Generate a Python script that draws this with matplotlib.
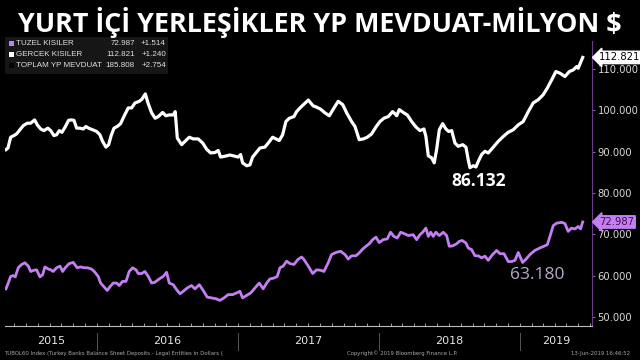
import matplotlib
matplotlib.use("Agg")
import matplotlib.pyplot as plt
import matplotlib.dates as mdates
import matplotlib.transforms as mtransforms
import pandas as pd
import numpy as np

title = "YURT İÇİ YERLEŞİKLER YP MEVDUAT-MİLYON $"

# dates as decimal years, values in billions (shown as 'milyon $' x1000)
gercek_t = [2015.355, 2015.369, 2015.388, 2015.411, 2015.430, 2015.454, 2015.477, 2015.506, 2015.530, 2015.558,
            2015.577, 2015.601, 2015.624, 2015.652, 2015.672, 2015.695, 2015.714, 2015.733, 2015.752, 2015.775,
            2015.799, 2015.818, 2015.837, 2015.856, 2015.879, 2015.903, 2015.922, 2015.941, 2015.970, 2015.998,
            2016.021, 2016.040, 2016.064, 2016.083, 2016.101, 2016.121, 2016.144, 2016.168, 2016.191, 2016.222,
            2016.246, 2016.270, 2016.300, 2016.319, 2016.343, 2016.362, 2016.388, 2016.413, 2016.435, 2016.466,
            2016.489, 2016.513, 2016.541, 2016.555, 2016.570, 2016.601, 2016.624, 2016.655, 2016.683, 2016.718,
            2016.750, 2016.778, 2016.806, 2016.837, 2016.860, 2016.877, 2016.908, 2016.943, 2016.979, 2017.002,
            2017.019, 2017.033, 2017.062, 2017.085, 2017.104, 2017.128, 2017.156, 2017.191, 2017.215, 2017.246,
            2017.270, 2017.293, 2017.317, 2017.340, 2017.364, 2017.397, 2017.416, 2017.440, 2017.468, 2017.499,
            2017.533, 2017.557, 2017.586, 2017.617, 2017.648, 2017.676, 2017.711, 2017.743, 2017.771, 2017.806,
            2017.830, 2017.860, 2017.889, 2017.917, 2017.948, 2017.979, 2018.007, 2018.035, 2018.066, 2018.097,
            2018.113, 2018.126, 2018.144, 2018.172, 2018.201, 2018.232, 2018.262, 2018.291, 2018.319, 2018.333,
            2018.350, 2018.374, 2018.392, 2018.409, 2018.428, 2018.452, 2018.475, 2018.494, 2018.516, 2018.539,
            2018.562, 2018.594, 2018.617, 2018.633, 2018.645, 2018.669, 2018.688, 2018.704, 2018.728, 2018.752,
            2018.775, 2018.806, 2018.846, 2018.882, 2018.917, 2018.952, 2018.988, 2019.023, 2019.059, 2019.094,
            2019.130, 2019.165, 2019.194, 2019.225, 2019.255, 2019.284, 2019.319, 2019.350, 2019.378, 2019.402,
            2019.413, 2019.445]
gercek_v = [90.5, 90.9, 93.5, 93.9, 94.3, 95.3, 96.3, 96.9, 96.9, 97.7,
            96.5, 95.5, 95.1, 95.7, 95.1, 93.9, 94.1, 95.1, 94.7, 96.0,
            97.6, 97.7, 97.6, 95.7, 95.7, 95.5, 96.1, 95.7, 95.3, 94.9,
            94.1, 92.5, 91.1, 91.7, 93.9, 95.7, 96.1, 96.8, 98.5, 100.6,
            100.6, 101.8, 102.2, 102.7, 104.0, 101.8, 99.4, 98.1, 98.5, 99.5,
            98.7, 98.9, 98.9, 99.7, 93.3, 91.7, 92.5, 93.5, 93.1, 93.1,
            92.1, 90.6, 89.7, 89.8, 90.3, 88.7, 88.9, 89.2, 88.9, 88.7,
            89.3, 87.3, 86.6, 86.8, 88.7, 89.7, 90.9, 91.1, 92.1, 93.5,
            93.1, 92.7, 94.1, 97.3, 98.1, 98.5, 99.7, 100.6, 101.5, 102.5,
            101.1, 100.8, 100.3, 99.4, 98.7, 100.3, 102.2, 101.4, 99.4, 97.3,
            96.1, 92.9, 93.1, 93.5, 94.3, 96.0, 97.3, 98.1, 98.5, 99.7,
            99.2, 98.7, 100.2, 99.5, 98.9, 97.3, 96.0, 95.1, 95.5, 93.7,
            89.0, 88.5, 87.3, 90.5, 95.3, 96.8, 95.5, 94.9, 95.1, 92.1,
            91.3, 91.7, 91.1, 88.1, 86.132, 86.6, 86.3, 87.6, 89.3, 90.1,
            89.7, 90.9, 92.5, 93.7, 94.7, 95.3, 96.5, 97.3, 99.7, 101.8,
            102.6, 103.8, 105.4, 107.4, 109.4, 109.0, 108.2, 109.4, 109.8, 110.6,
            110.2, 112.821]

tuzel_t = [2015.355, 2015.371, 2015.388, 2015.406, 2015.421, 2015.442, 2015.466, 2015.489, 2015.513, 2015.530,
           2015.553, 2015.572, 2015.596, 2015.615, 2015.631, 2015.655, 2015.672, 2015.690, 2015.714, 2015.738,
           2015.757, 2015.775, 2015.803, 2015.832, 2015.860, 2015.884, 2015.908, 2015.931, 2015.962, 2015.986,
           2016.009, 2016.026, 2016.050, 2016.073, 2016.092, 2016.116, 2016.140, 2016.158, 2016.182, 2016.206,
           2016.229, 2016.253, 2016.277, 2016.293, 2016.317, 2016.340, 2016.364, 2016.388, 2016.411, 2016.442,
           2016.470, 2016.494, 2016.513, 2016.541, 2016.565, 2016.589, 2016.612, 2016.640, 2016.671, 2016.695,
           2016.726, 2016.754, 2016.782, 2016.813, 2016.844, 2016.872, 2016.901, 2016.931, 2016.962, 2016.991,
           2017.014, 2017.033, 2017.062, 2017.090, 2017.121, 2017.151, 2017.179, 2017.204, 2017.227, 2017.255,
           2017.279, 2017.298, 2017.321, 2017.345, 2017.369, 2017.397, 2017.428, 2017.452, 2017.468, 2017.499,
           2017.530, 2017.558, 2017.586, 2017.610, 2017.640, 2017.664, 2017.695, 2017.728, 2017.759, 2017.782,
           2017.806, 2017.837, 2017.860, 2017.884, 2017.908, 2017.931, 2017.955, 2017.979, 2018.002, 2018.030,
           2018.059, 2018.082, 2018.106, 2018.130, 2018.154, 2018.177, 2018.208, 2018.243, 2018.267, 2018.291,
           2018.310, 2018.333, 2018.350, 2018.367, 2018.385, 2018.404, 2018.428, 2018.456, 2018.480, 2018.499,
           2018.523, 2018.551, 2018.570, 2018.590, 2018.617, 2018.633, 2018.657, 2018.681, 2018.704, 2018.728,
           2018.752, 2018.775, 2018.806, 2018.835, 2018.858, 2018.887, 2018.917, 2018.941, 2018.965, 2018.988,
           2019.005, 2019.019, 2019.043, 2019.071, 2019.106, 2019.142, 2019.170, 2019.194, 2019.213, 2019.236,
           2019.260, 2019.296, 2019.319, 2019.342, 2019.366, 2019.390, 2019.413, 2019.430, 2019.445]
tuzel_v = [56.8, 58.2, 59.8, 60.0, 59.7, 61.9, 62.7, 63.1, 62.3, 61.0,
           61.3, 61.4, 59.7, 60.2, 62.1, 61.6, 61.4, 61.0, 61.9, 62.3,
           61.0, 61.9, 62.9, 63.2, 61.9, 62.1, 61.9, 61.9, 61.6, 60.8,
           59.8, 58.2, 57.3, 56.4, 57.3, 58.2, 58.2, 57.6, 58.6, 58.6,
           61.0, 61.9, 61.4, 60.5, 60.5, 61.0, 59.8, 58.2, 58.4, 59.2,
           59.8, 60.8, 58.2, 57.8, 56.6, 55.6, 56.2, 57.0, 57.6, 56.8,
           57.8, 56.4, 54.8, 54.6, 54.4, 54.0, 54.6, 55.4, 55.4, 55.8,
           56.2, 54.6, 55.2, 55.8, 57.0, 58.2, 56.8, 58.2, 59.2, 59.4,
           59.8, 61.9, 62.3, 63.5, 62.9, 62.7, 64.0, 64.5, 63.9, 62.3,
           60.5, 61.4, 61.3, 61.0, 63.1, 65.1, 65.6, 65.9, 65.1, 64.0,
           64.8, 64.8, 65.5, 66.4, 67.1, 67.7, 68.7, 69.3, 68.0, 68.7,
           68.9, 70.5, 69.5, 69.1, 70.5, 70.2, 69.7, 69.9, 68.7, 69.9,
           70.5, 71.5, 69.5, 70.5, 69.5, 70.5, 69.7, 70.5, 69.7, 67.1,
           67.2, 67.7, 68.3, 68.5, 67.9, 66.7, 66.3, 64.8, 64.8, 64.3,
           64.7, 63.7, 65.1, 66.1, 65.3, 65.3, 63.4, 63.4, 63.7, 65.6,
           64.3, 63.18, 64.0, 65.1, 66.1, 66.7, 67.1, 67.5, 69.5, 72.1,
           72.7, 72.9, 72.6, 70.7, 71.5, 71.3, 71.9, 71.3, 72.987]

legend_names = ["TUZEL KISILER", "GERCEK KISILER", "TOPLAM YP MEVDUAT"]
legend_last = ["72.987", "112.821", "185.808"]
legend_change = ["+1.514", "+1.240", "+2.754"]
y_ticks = [50, 60, 70, 80, 90, 100, 110]
years = [2015, 2016, 2017, 2018, 2019]
min_gercek_label = "86.132"
min_tuzel_label = "63.180"
footer_left = "TUBOL60 Index (Turkey Banks Balance Sheet Deposits - Legal Entities in Dollars ("
footer_mid = "Copyright\u00a9 2019 Bloomberg Finance L.P."
footer_right = "13-Jun-2019 16:46:52"


def to_date(y):
    y = np.asarray(y, dtype=float)
    base = pd.Timestamp("2015-01-01")
    return [base + pd.Timedelta(days=float((v - 2015.0) * 365.25)) for v in y]


PURPLE = "#c57ef2"
WHITE = "#ffffff"
BG = "#000000"

fig = plt.figure(figsize=(6.4, 3.6), dpi=100, facecolor=BG)
ax = fig.add_axes([5 / 640, 1 - 326 / 360, 587 / 640, 285 / 360], facecolor=BG)

ax.plot(to_date(gercek_t), gercek_v, color=WHITE, lw=2.3, solid_joinstyle="round")
ax.plot(to_date(tuzel_t), tuzel_v, color=PURPLE, lw=2.0, solid_joinstyle="round")

xmin, xmax = to_date([2015.348, 2019.511])
ax.set_xlim(xmin, xmax)
ax.set_ylim(47.8, 116.8)

for s in ["top", "left"]:
    ax.spines[s].set_visible(False)
ax.spines["right"].set_color("#6a3d8a")
ax.spines["bottom"].set_color("#bbbbbb")
ax.spines["right"].set_linewidth(0.8)
ax.spines["bottom"].set_linewidth(0.8)

ax.yaxis.tick_right()
ax.set_yticks(y_ticks)
ax.set_yticklabels([f"{v:.3f}" for v in y_ticks])
ax.tick_params(axis="y", colors="#8a5aa8", length=2.5, width=0.8, pad=1.5, labelsize=7.2,
               labelcolor="#d8d8d8")

ax.xaxis.set_major_locator(mdates.MonthLocator())
ax.xaxis.set_major_formatter(plt.NullFormatter())
ax.tick_params(axis="x", direction="in", length=2, width=0.6, colors="#bbbbbb")

# year labels and separators
xform = mtransforms.blended_transform_factory(ax.transData, ax.transAxes)
x0n = mdates.date2num(xmin)
x1n = mdates.date2num(xmax)
for yr in years:
    a = max(mdates.date2num(pd.Timestamp(f"{yr}-01-01")), x0n)
    b = min(mdates.date2num(pd.Timestamp(f"{yr + 1}-01-01")), x1n)
    ax.text((a + b) / 2, -0.052, str(yr), transform=xform, ha="center", va="center",
            color="#e6e6e6", fontsize=8, clip_on=False)
    if yr > years[0]:
        xb = mdates.date2num(pd.Timestamp(f"{yr}-01-01"))
        ax.plot([xb, xb], [-0.025, -0.085], transform=xform, color="#555555", lw=0.7, clip_on=False)

# min annotations
ax.text(to_date([2018.71])[0], 83.0, min_gercek_label, color=WHITE, fontsize=12.5,
        fontweight="bold", ha="center", va="center", family="Open Sans")
ax.text(to_date([2019.12])[0], 60.2, min_tuzel_label, color="#b9a9cc", fontsize=12.5,
        ha="center", va="center", family="Open Sans")

# last-value tags on right axis
ytr = mtransforms.blended_transform_factory(ax.transAxes, ax.transData)
ax.text(1.012, gercek_v[-1], legend_last[1], transform=ytr, ha="left", va="center", fontsize=7.2,
        color="#000000", clip_on=False,
        bbox=dict(boxstyle="larrow,pad=0.12", fc=WHITE, ec=WHITE))
ax.text(1.012, tuzel_v[-1], legend_last[0], transform=ytr, ha="left", va="center", fontsize=7.2,
        color="#3a1050", clip_on=False,
        bbox=dict(boxstyle="larrow,pad=0.12", fc=PURPLE, ec=PURPLE))

# title
fig.text(0.5, 1 - 22 / 360, title, ha="center", va="center", color=WHITE, fontsize=19.4,
         fontweight="bold", family="Open Sans")

# legend box
fig.patches.append(plt.Rectangle((5 / 640, 1 - 74 / 360), 163 / 640, 37 / 360,
                                 transform=fig.transFigure, facecolor="#161616", edgecolor="none"))
sq_colors = [PURPLE, WHITE, "#050505"]
for i, (nm, lv, ch) in enumerate(zip(legend_names, legend_last, legend_change)):
    yy = 1 - (43.5 + 11 * i) / 360
    fig.patches.append(plt.Rectangle((9 / 640, yy - 2.5 / 360), 5 / 640, 5 / 360,
                                     transform=fig.transFigure, facecolor=sq_colors[i], edgecolor="none"))
    kw = dict(color="#e0e0e0", fontsize=5.8, va="center", family="Liberation Sans")
    fig.text(16 / 640, yy, nm, ha="left", **kw)
    fig.text(135 / 640, yy, lv, ha="right", **kw)
    fig.text(166 / 640, yy, ch, ha="right", **kw)

# footer
fkw = dict(color="#a8a8a8", fontsize=3.9, va="center")
fig.text(4 / 640, 1 - 353 / 360, footer_left, ha="left", **fkw)
fig.text(402 / 640, 1 - 353 / 360, footer_mid, ha="center", **fkw)
fig.text(630 / 640, 1 - 353 / 360, footer_right, ha="right", **fkw)

fig.savefig("out.png", dpi=100, facecolor=BG)
